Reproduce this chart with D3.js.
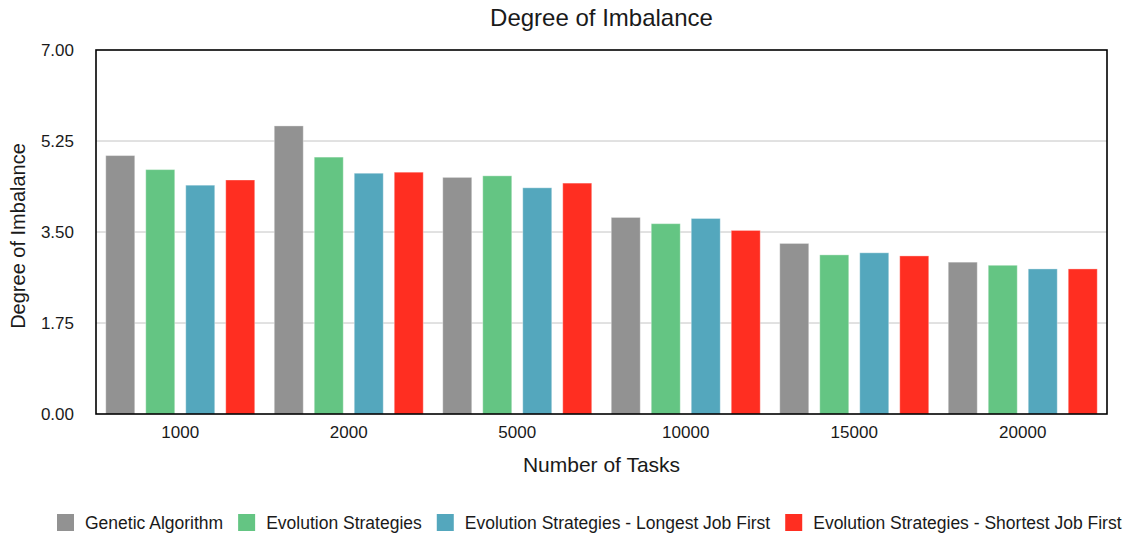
<!DOCTYPE html>
<html><head><meta charset="utf-8">
<script src="https://cdn.jsdelivr.net/npm/d3@7/dist/d3.min.js"></script>
<style>body{margin:0;background:#fff;}svg{display:block;font-family:"Liberation Sans",Arial,Helvetica,sans-serif;}</style>
</head><body>
<svg id="chart" width="1126" height="537"></svg>
<script>
const categories = ["1000","2000","5000","10000","15000","20000"];
const seriesNames = ["Genetic Algorithm","Evolution Strategies","Evolution Strategies - Longest Job First","Evolution Strategies - Shortest Job First"];
const geneticAlgorithm = [4.97, 5.54, 4.55, 3.78, 3.28, 2.92];
const evolutionStrategies = [4.70, 4.94, 4.58, 3.66, 3.06, 2.86];
const esLongestJobFirst = [4.40, 4.63, 4.35, 3.76, 3.10, 2.79];
const esShortestJobFirst = [4.50, 4.65, 4.44, 3.53, 3.04, 2.79];
const yTicks = [0, 1.75, 3.5, 5.25, 7];
const colors = ["#929292","#64c583","#54a7bd","#ff2e21"];

const seriesValues = [geneticAlgorithm, evolutionStrategies, esLongestJobFirst, esShortestJobFirst];
const svg = d3.select("#chart");
const m = {left:96, top:50, right:1107, bottom:414};
const textColor = "#1a1a1a";

const x0 = d3.scaleBand().domain(categories).range([m.left, m.right]).padding(0);
const x1 = d3.scaleBand().domain(d3.range(seriesNames.length)).range([0, x0.bandwidth()]).paddingInner(0.275).paddingOuter(0.244);
const y = d3.scaleLinear().domain([0,7]).range([m.bottom, m.top]);

// gridlines
svg.append("g").selectAll("line").data(yTicks.filter(t=>t>0 && t<7)).join("line")
  .attr("x1", m.left).attr("x2", m.right)
  .attr("y1", d=>y(d)).attr("y2", d=>y(d))
  .attr("stroke","#c4c4c4").attr("stroke-width",1);

// bars
const data = [];
categories.forEach((c,i)=>seriesValues.forEach((s,j)=>data.push({c, j, v:s[i]})));
svg.append("g").selectAll("rect").data(data).join("rect")
  .attr("x", d=>x0(d.c)+x1(d.j)).attr("width", x1.bandwidth())
  .attr("y", d=>y(d.v)).attr("height", d=>y(0)-y(d.v))
  .attr("fill", d=>colors[d.j])
  .attr("stroke","rgba(255,255,255,0.35)").attr("stroke-width",1);

// frame
svg.append("rect").attr("x",m.left).attr("y",m.top).attr("width",m.right-m.left).attr("height",m.bottom-m.top)
  .attr("fill","none").attr("stroke","#000").attr("stroke-width",1.6);

// y axis
const yAxis = d3.axisLeft(y).tickValues(yTicks).tickFormat(d3.format(".2f")).tickSize(0).tickPadding(22);
const ya = svg.append("g").attr("transform",`translate(${m.left},0)`).call(yAxis);
ya.select(".domain").remove();
ya.selectAll("text").attr("font-size",17).attr("fill",textColor).style("font-family","inherit");

// x axis
const xAxis = d3.axisBottom(x0).tickSize(0).tickPadding(12);
const xa = svg.append("g").attr("transform",`translate(0,${m.bottom})`).call(xAxis);
xa.select(".domain").remove();
xa.selectAll("text").attr("font-size",17).attr("fill",textColor).style("font-family","inherit");

// titles
svg.append("text").attr("x",(m.left+m.right)/2).attr("y",26).attr("text-anchor","middle").attr("font-size",24).attr("fill",textColor).text("Degree of Imbalance");
svg.append("text").attr("x",(m.left+m.right)/2).attr("y",472).attr("text-anchor","middle").attr("font-size",21).attr("fill",textColor).text("Number of Tasks");
svg.append("text").attr("transform",`translate(25,${(m.top+m.bottom)/2 + 4}) rotate(-90)`).attr("text-anchor","middle").attr("font-size",20).attr("fill",textColor).text("Degree of Imbalance");

// legend
const lg = svg.append("g");
let lx = 57;
seriesNames.forEach((n,i)=>{
  lg.append("rect").attr("x",lx).attr("y",514).attr("width",17).attr("height",17).attr("fill",colors[i]);
  const t = lg.append("text").attr("x",lx+28).attr("y",529).attr("font-size",17.5).attr("fill",textColor).text(n);
  lx += 28 + t.node().getComputedTextLength() + 15;
});
</script>
</body></html>
